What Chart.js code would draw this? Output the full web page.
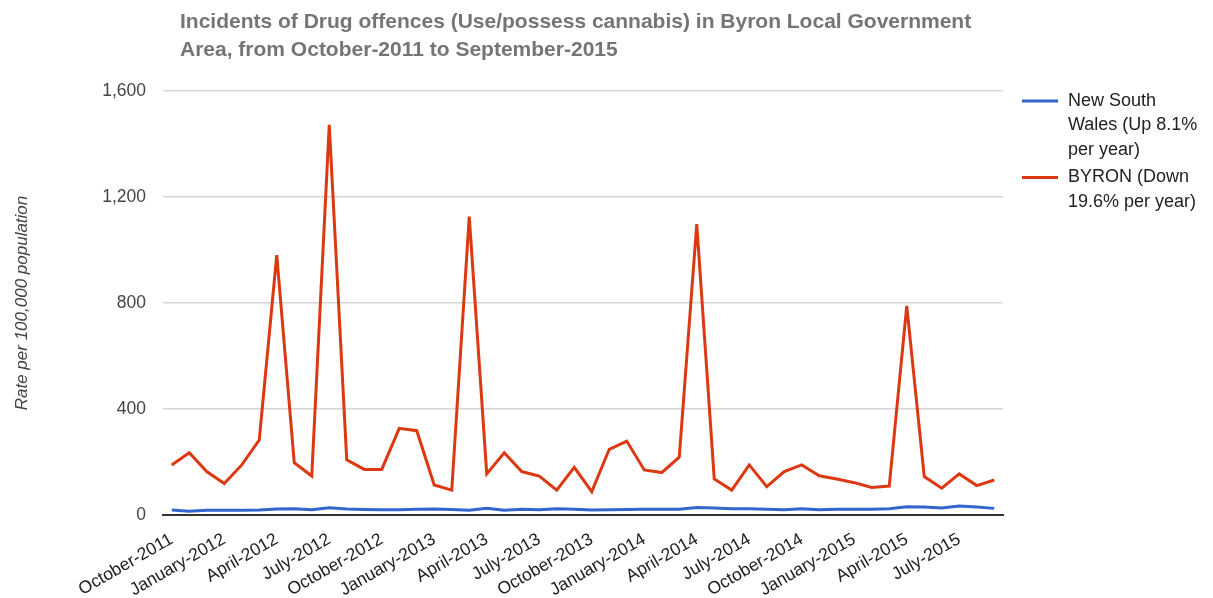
<!DOCTYPE html>
<html>
<head>
<meta charset="utf-8">
<script src="https://cdn.jsdelivr.net/npm/chart.js@4.4.1/dist/chart.umd.min.js"></script>
<style>
  html, body { margin: 0; background: #fff; }
  #wrap { width: 1213px; height: 598px; }
</style>
</head>
<body>
<div id="wrap"><canvas id="myChart"></canvas></div>
<script>
// Monthly periods, October 2011 through September 2015
const monthNames = ['January', 'February', 'March', 'April', 'May', 'June',
  'July', 'August', 'September', 'October', 'November', 'December'];
const categories = [];
for (let k = 0; k < 48; k++) {
  const m = (9 + k) % 12;
  const y = 2011 + Math.floor((9 + k) / 12);
  categories.push(monthNames[m] + '-' + y);
}

// Rate per 100,000 population
const nswRates = [19, 14, 18, 18, 18, 19, 23, 24, 20, 27, 23, 21, 20, 20, 22, 23, 21, 18, 25, 18,
  22, 20, 24, 22, 19, 20, 21, 22, 22, 22, 28, 26, 24, 24, 22, 20, 24, 20, 22, 22,
  22, 24, 31, 30, 26, 34, 30, 25];
const byronRates = [189, 235, 164, 119, 189, 283, 981, 197, 147, 1472, 208, 172, 172, 327, 318, 113,
  94, 1126, 155, 235, 164, 147, 94, 180, 88, 248, 279, 170, 160, 218, 1098, 136,
  94, 189, 107, 164, 189, 148, 136, 122, 104, 109, 789, 145, 101, 155, 111, 132];

const yTicks = [0, 400, 800, 1200, 1600];

const seriesNames = ['New South Wales (Up 8.1% per year)', 'BYRON (Down 19.6% per year)'];
const legendLines = [['New South', 'Wales (Up 8.1%', 'per year)'], ['BYRON (Down', '19.6% per year)']];
const titleLines = ['Incidents of Drug offences (Use/possess cannabis) in Byron Local Government',
  'Area, from October-2011 to September-2015'];

const FONT = "'Liberation Sans', Arial, sans-serif";
Chart.defaults.font.family = FONT;

const data = {
  labels: categories,
  datasets: [{
    label: seriesNames[0],
    data: nswRates,
    borderColor: '#3366cc',
    borderWidth: 3
  }, {
    label: seriesNames[1],
    data: byronRates,
    borderColor: '#dc3912',
    borderWidth: 3
  }]
};

// heading and wrapped legend, drawn next to the plot area
const decorations = {
  id: 'decorations',
  afterDraw(chart) {
    const c = chart.ctx;
    const area = chart.chartArea;
    c.save();
    c.textBaseline = 'middle';
    c.textAlign = 'left';
    c.fillStyle = '#757575';
    c.font = 'bold 21px ' + FONT;
    titleLines.forEach((t, i) => c.fillText(t, area.left + 17, 22 + i * 28));

    c.font = '18px ' + FONT;
    let y = 101;
    chart.data.datasets.forEach((ds, i) => {
      c.strokeStyle = ds.borderColor;
      c.lineWidth = 3;
      c.beginPath();
      c.moveTo(area.right + 19, y);
      c.lineTo(area.right + 55, y);
      c.stroke();
      c.fillStyle = '#222';
      legendLines[i].forEach(t => {
        c.fillText(t, area.right + 65, y);
        y += 24.5;
      });
      y += 3;
    });
    c.restore();
  }
};

const options = {
  responsive: true,
  maintainAspectRatio: false,
  animation: false,
  layout: { padding: { left: 12, right: 210, top: 91, bottom: 0 } },
  elements: { point: { radius: 0 }, line: { tension: 0 } },
  plugins: { legend: { display: false }, tooltip: { enabled: false } },
  scales: {
    x: {
      offset: true,
      grid: { display: false },
      border: { color: '#333', width: 2 },
      afterFit(scale) { scale.height = 83; },
      ticks: {
        autoSkip: false,
        maxRotation: 30,
        minRotation: 30,
        padding: 6,
        color: '#222',
        font: { size: 17.5 },
        callback: (v, i) => (i % 3 === 0 ? categories[i] : '')
      }
    },
    y: {
      min: 0,
      max: 1600,
      afterFit(scale) { scale.width = 151; },
      afterBuildTicks(scale) { scale.ticks = yTicks.map(v => ({ value: v })); },
      border: { display: false },
      grid: {
        drawTicks: false,
        color: c => (c.tick.value === 0 ? 'rgba(0,0,0,0)' : '#d6d6d6'),
        lineWidth: 1.5
      },
      ticks: {
        padding: 17,
        color: '#444',
        font: { size: 17.5 },
        callback: v => v.toLocaleString('en-US')
      },
      title: {
        display: true,
        text: 'Rate per 100,000 population',
        color: '#444',
        padding: 0,
        font: { size: 17, style: 'italic' }
      }
    }
  }
};

const ctx = document.getElementById('myChart').getContext('2d');
const myChart = new Chart(ctx, {
  type: 'line',
  data: data,
  options: options,
  plugins: [decorations]
});
</script>
</body>
</html>
